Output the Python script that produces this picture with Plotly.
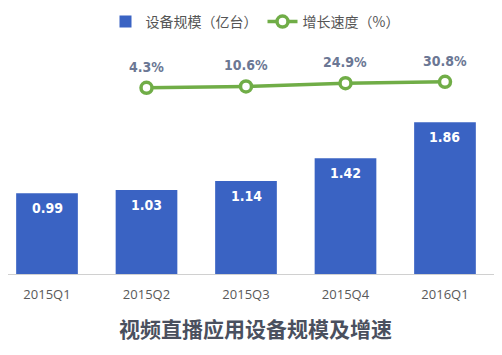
import plotly.graph_objects as go

categories = ["2015Q1", "2015Q2", "2015Q3", "2015Q4", "2016Q1"]
devices = [0.99, 1.03, 1.14, 1.42, 1.86]
growth = [None, 4.3, 10.6, 24.9, 30.8]
growth_labels = ["", "4.3%", "10.6%", "24.9%", "30.8%"]

BLUE = "#3a63c3"
GREEN = "#70ad47"
NUMFONT = "DejaVu Sans Condensed"

fig = go.Figure()
fig.add_trace(go.Bar(
    x=categories, y=devices, name="设备规模（亿台）",
    marker=dict(color=BLUE, line=dict(width=0)), width=0.62,
))
fig.add_trace(go.Scatter(
    x=categories, y=growth, name="增长速度（%）", yaxis="y2",
    mode="lines+markers",
    line=dict(color=GREEN, width=3.5),
    marker=dict(size=11, color="white", line=dict(color=GREEN, width=3.5)),
))

anns = []
for c, v in zip(categories, devices):
    anns.append(dict(x=c, y=v, xref="x", yref="y", text=f"{v:.2f}", showarrow=False,
                     yshift=-15, font=dict(family=NUMFONT, size=14, color="white", weight="bold")))
for c, v, t in zip(categories, growth, growth_labels):
    if v is None:
        continue
    anns.append(dict(x=c, y=v, xref="x", yref="y2", text=t, showarrow=False,
                     yshift=21, font=dict(family=NUMFONT, size=14, color="#6b7794", weight="bold")))
anns.append(dict(x=0.5, y=-0.231, xref="paper", yref="paper", text="<b>视频直播应用设备规模及增速</b>",
                 showarrow=False, xanchor="center", yanchor="middle",
                 font=dict(family="Noto Sans CJK SC", size=21, color="#4a505e")))

fig.update_layout(
    width=494, height=347,
    margin=dict(l=0, r=0, t=32, b=81, autoexpand=False),
    paper_bgcolor="white", plot_bgcolor="white",
    showlegend=True,
    legend=dict(orientation="h", x=0.5, xanchor="center", y=1.077, yanchor="middle",
                font=dict(family="Noto Sans CJK SC", size=14, color="#555555"),
                itemwidth=30),
    xaxis=dict(range=[-0.392, 4.573], showgrid=False, showline=True, linecolor="#d0d0d0", linewidth=1,
               ticks="", ticklabelstandoff=8,
               tickfont=dict(family="Open Sans", size=13, color="#595959")),
    yaxis=dict(range=[0, 2.87], visible=False, showgrid=False, zeroline=False),
    yaxis2=dict(range=[-819, 216], overlaying="y", visible=False, showgrid=False, zeroline=False),
    annotations=anns,
)

fig.write_html("out.html")
